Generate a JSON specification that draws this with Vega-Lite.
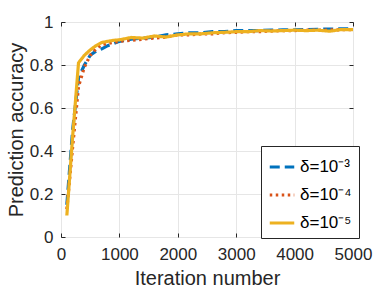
{
  "$schema": "https://vega.github.io/schema/vega-lite/v6.json",
  "autosize": {"type": "none"},
  "padding": {"left": 61, "top": 22, "right": 37, "bottom": 56},
  "width": 292,
  "height": 215,
  "config": {
    "font": "Liberation Sans",
    "view": {"stroke": "#262626", "strokeWidth": 1},
    "axis": {"gridColor": "#e6e6e6", "gridOpacity": 1, "domain": false, "tickColor": "#262626", "tickSize": -4, "labelColor": "#262626", "titleColor": "#262626", "labelFontSize": 17, "titleFontSize": 20, "titleFontWeight": "normal", "labelFlush": false, "labelOverlap": false}
  },
  "data": {"values": [
    {"it": 100, "s": "δ=10⁻³", "acc": 0.15},
    {"it": 200, "s": "δ=10⁻³", "acc": 0.5},
    {"it": 300, "s": "δ=10⁻³", "acc": 0.74},
    {"it": 400, "s": "δ=10⁻³", "acc": 0.8},
    {"it": 500, "s": "δ=10⁻³", "acc": 0.845},
    {"it": 600, "s": "δ=10⁻³", "acc": 0.865},
    {"it": 700, "s": "δ=10⁻³", "acc": 0.875},
    {"it": 800, "s": "δ=10⁻³", "acc": 0.89},
    {"it": 900, "s": "δ=10⁻³", "acc": 0.9},
    {"it": 1000, "s": "δ=10⁻³", "acc": 0.91},
    {"it": 1200, "s": "δ=10⁻³", "acc": 0.92},
    {"it": 1400, "s": "δ=10⁻³", "acc": 0.925},
    {"it": 1600, "s": "δ=10⁻³", "acc": 0.93},
    {"it": 1800, "s": "δ=10⁻³", "acc": 0.94},
    {"it": 2000, "s": "δ=10⁻³", "acc": 0.945},
    {"it": 2200, "s": "δ=10⁻³", "acc": 0.95},
    {"it": 2400, "s": "δ=10⁻³", "acc": 0.95},
    {"it": 2600, "s": "δ=10⁻³", "acc": 0.955},
    {"it": 2800, "s": "δ=10⁻³", "acc": 0.955},
    {"it": 3000, "s": "δ=10⁻³", "acc": 0.96},
    {"it": 3200, "s": "δ=10⁻³", "acc": 0.96},
    {"it": 3400, "s": "δ=10⁻³", "acc": 0.96},
    {"it": 3600, "s": "δ=10⁻³", "acc": 0.962},
    {"it": 3800, "s": "δ=10⁻³", "acc": 0.963},
    {"it": 4000, "s": "δ=10⁻³", "acc": 0.964},
    {"it": 4200, "s": "δ=10⁻³", "acc": 0.965},
    {"it": 4400, "s": "δ=10⁻³", "acc": 0.966},
    {"it": 4600, "s": "δ=10⁻³", "acc": 0.967},
    {"it": 4800, "s": "δ=10⁻³", "acc": 0.968},
    {"it": 5000, "s": "δ=10⁻³", "acc": 0.968},
    {"it": 100, "s": "δ=10⁻⁴", "acc": 0.13},
    {"it": 200, "s": "δ=10⁻⁴", "acc": 0.42},
    {"it": 300, "s": "δ=10⁻⁴", "acc": 0.7},
    {"it": 400, "s": "δ=10⁻⁴", "acc": 0.79},
    {"it": 500, "s": "δ=10⁻⁴", "acc": 0.845},
    {"it": 600, "s": "δ=10⁻⁴", "acc": 0.875},
    {"it": 700, "s": "δ=10⁻⁴", "acc": 0.895},
    {"it": 800, "s": "δ=10⁻⁴", "acc": 0.9},
    {"it": 900, "s": "δ=10⁻⁴", "acc": 0.905},
    {"it": 1000, "s": "δ=10⁻⁴", "acc": 0.91},
    {"it": 1200, "s": "δ=10⁻⁴", "acc": 0.915},
    {"it": 1400, "s": "δ=10⁻⁴", "acc": 0.92},
    {"it": 1600, "s": "δ=10⁻⁴", "acc": 0.925},
    {"it": 1800, "s": "δ=10⁻⁴", "acc": 0.93},
    {"it": 2000, "s": "δ=10⁻⁴", "acc": 0.94},
    {"it": 2200, "s": "δ=10⁻⁴", "acc": 0.94},
    {"it": 2400, "s": "δ=10⁻⁴", "acc": 0.945},
    {"it": 2600, "s": "δ=10⁻⁴", "acc": 0.945},
    {"it": 2800, "s": "δ=10⁻⁴", "acc": 0.95},
    {"it": 3000, "s": "δ=10⁻⁴", "acc": 0.952},
    {"it": 3200, "s": "δ=10⁻⁴", "acc": 0.955},
    {"it": 3400, "s": "δ=10⁻⁴", "acc": 0.955},
    {"it": 3600, "s": "δ=10⁻⁴", "acc": 0.958},
    {"it": 3800, "s": "δ=10⁻⁴", "acc": 0.96},
    {"it": 4000, "s": "δ=10⁻⁴", "acc": 0.96},
    {"it": 4200, "s": "δ=10⁻⁴", "acc": 0.962},
    {"it": 4400, "s": "δ=10⁻⁴", "acc": 0.962},
    {"it": 4600, "s": "δ=10⁻⁴", "acc": 0.963},
    {"it": 4800, "s": "δ=10⁻⁴", "acc": 0.964},
    {"it": 5000, "s": "δ=10⁻⁴", "acc": 0.965},
    {"it": 100, "s": "δ=10⁻⁵", "acc": 0.1},
    {"it": 200, "s": "δ=10⁻⁵", "acc": 0.47},
    {"it": 300, "s": "δ=10⁻⁵", "acc": 0.81},
    {"it": 400, "s": "δ=10⁻⁵", "acc": 0.845},
    {"it": 500, "s": "δ=10⁻⁵", "acc": 0.87},
    {"it": 600, "s": "δ=10⁻⁵", "acc": 0.89},
    {"it": 700, "s": "δ=10⁻⁵", "acc": 0.905},
    {"it": 800, "s": "δ=10⁻⁵", "acc": 0.91},
    {"it": 900, "s": "δ=10⁻⁵", "acc": 0.915},
    {"it": 1000, "s": "δ=10⁻⁵", "acc": 0.917},
    {"it": 1200, "s": "δ=10⁻⁵", "acc": 0.928},
    {"it": 1400, "s": "δ=10⁻⁵", "acc": 0.925},
    {"it": 1600, "s": "δ=10⁻⁵", "acc": 0.935},
    {"it": 1800, "s": "δ=10⁻⁵", "acc": 0.93},
    {"it": 2000, "s": "δ=10⁻⁵", "acc": 0.94},
    {"it": 2200, "s": "δ=10⁻⁵", "acc": 0.945},
    {"it": 2400, "s": "δ=10⁻⁵", "acc": 0.945},
    {"it": 2600, "s": "δ=10⁻⁵", "acc": 0.95},
    {"it": 2800, "s": "δ=10⁻⁵", "acc": 0.952},
    {"it": 3000, "s": "δ=10⁻⁵", "acc": 0.955},
    {"it": 3200, "s": "δ=10⁻⁵", "acc": 0.955},
    {"it": 3400, "s": "δ=10⁻⁵", "acc": 0.96},
    {"it": 3600, "s": "δ=10⁻⁵", "acc": 0.958},
    {"it": 3800, "s": "δ=10⁻⁵", "acc": 0.96},
    {"it": 4000, "s": "δ=10⁻⁵", "acc": 0.962},
    {"it": 4200, "s": "δ=10⁻⁵", "acc": 0.96},
    {"it": 4400, "s": "δ=10⁻⁵", "acc": 0.962},
    {"it": 4600, "s": "δ=10⁻⁵", "acc": 0.957},
    {"it": 4800, "s": "δ=10⁻⁵", "acc": 0.965},
    {"it": 5000, "s": "δ=10⁻⁵", "acc": 0.965}
  ]},
  "resolve": {"axis": {"x": "independent", "y": "independent"}},
  "layer": [
    {
      "mark": {"type": "line", "strokeWidth": 3.2},
      "encoding": {
        "x": {"field": "it", "type": "quantitative", "scale": {"domain": [0, 5000], "nice": false}, "axis": {"values": [0, 1000, 2000, 3000, 4000, 5000], "format": "d", "title": "Iteration number", "titlePadding": 6, "labelPadding": 13, "orient": "bottom"}},
        "y": {"field": "acc", "type": "quantitative", "scale": {"domain": [0, 1], "nice": false}, "axis": {"values": [0, 0.2, 0.4, 0.6, 0.8, 1], "format": "~g", "title": "Prediction accuracy", "titlePadding": 3, "labelPadding": 12, "orient": "left"}},
        "color": {"field": "s", "type": "nominal", "scale": {"domain": ["δ=10⁻³", "δ=10⁻⁴", "δ=10⁻⁵"], "range": ["#0072BD", "#D95319", "#EDB120"]}, "legend": {"title": null, "orient": "none", "legendX": 200, "legendY": 124, "strokeColor": "#262626", "fillColor": "white", "padding": 7, "symbolType": "stroke", "symbolSize": 600, "symbolStrokeWidth": 3.2, "labelFontSize": 17, "rowPadding": 6, "labelFont": "Liberation Sans", "labelColor": "#000"}},
        "strokeDash": {"field": "s", "type": "nominal", "scale": {"domain": ["δ=10⁻³", "δ=10⁻⁴", "δ=10⁻⁵"], "range": [[10, 5], [2.5, 3.5], [1, 0]]}, "legend": null}
      }
    },
    {
      "mark": {"type": "line", "opacity": 0},
      "encoding": {
        "x": {"field": "it", "type": "quantitative", "axis": {"orient": "top", "values": [0, 1000, 2000, 3000, 4000, 5000], "labels": false, "grid": false, "title": null}},
        "y": {"field": "acc", "type": "quantitative", "axis": {"orient": "right", "values": [0, 0.2, 0.4, 0.6, 0.8, 1], "labels": false, "grid": false, "title": null}},
        "detail": {"field": "s"}
      }
    }
  ]
}
